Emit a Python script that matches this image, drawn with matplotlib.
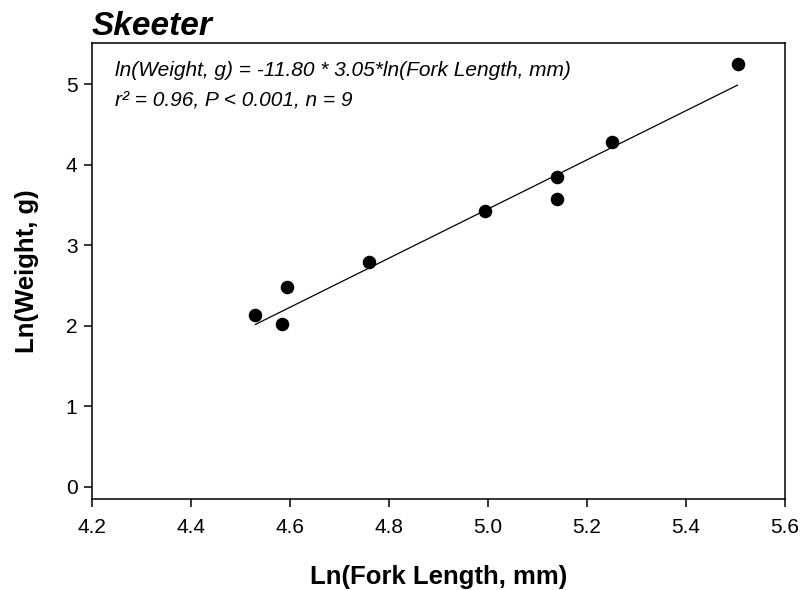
import matplotlib
matplotlib.use("Agg")
import matplotlib.pyplot as plt
import numpy as np

plt.rcParams["font.family"] = ["Liberation Sans", "DejaVu Sans"]

# Skeeter length-weight data (natural log)
ln_fork_length = [4.530, 4.583, 4.593, 4.760, 4.994, 5.139, 5.139, 5.251, 5.504]
ln_weight = [2.13, 2.02, 2.48, 2.79, 3.42, 3.85, 3.57, 4.28, 5.25]

# regression coefficients
intercept = -11.80
slope = 3.05

x_ticks = [4.2, 4.4, 4.6, 4.8, 5.0, 5.2, 5.4, 5.6]
y_ticks = [0, 1, 2, 3, 4, 5]

fig = plt.figure(figsize=(8.04, 5.90), dpi=100)
ax = fig.add_axes([0.1144, 0.1542, 0.862, 0.7729])

ax.scatter(ln_fork_length, ln_weight, s=95, color="black", zorder=3, linewidths=0)

xfit = np.array([min(ln_fork_length), max(ln_fork_length)])
ax.plot(xfit, intercept + slope * xfit, color="black", lw=0.9)

ax.set_xlim(4.2, 5.6)
ax.set_ylim(-0.15, 5.51)
ax.set_xticks(x_ticks)
ax.set_xticklabels([f"{t:.1f}" for t in x_ticks])
ax.set_yticks(y_ticks)

for s in ax.spines.values():
    s.set_linewidth(1.1)
ax.tick_params(direction="out", length=5.5, width=1.1, labelsize=15,
               top=False, right=False)
ax.tick_params(axis="x", pad=8)
ax.tick_params(axis="y", pad=5)

ax.set_xlabel("Ln(Fork Length, mm)", fontsize=18.5, fontweight="bold", labelpad=20)
ax.set_ylabel("Ln(Weight, g)", fontsize=18.5, fontweight="bold", labelpad=19)

fig.text(0.1144, 0.941, "Skeeter", fontsize=24, fontweight="bold",
         style="italic", ha="left", va="baseline")

ax.text(0.033, 0.94, "ln(Weight, g) = -11.80 * 3.05*ln(Fork Length, mm)",
        transform=ax.transAxes, fontsize=15, style="italic", va="center")
ax.text(0.033, 0.872, "r\u00b2 = 0.96, P < 0.001, n = 9",
        transform=ax.transAxes, fontsize=15, style="italic", va="center")

fig.savefig("out.png", dpi=100)
